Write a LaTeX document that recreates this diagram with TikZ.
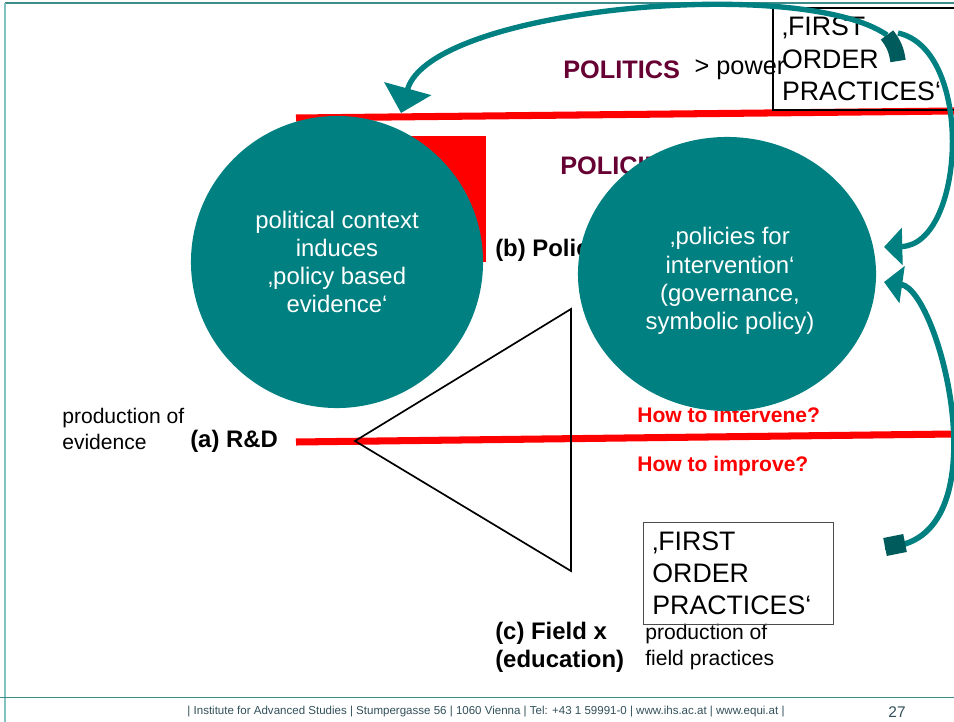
\documentclass[tikz,border=0pt]{standalone}
\usepackage{fontspec}
\setmainfont{Liberation Sans}
\usetikzlibrary{arrows.meta, positioning, shapes.geometric}

\definecolor{ihsteal}{RGB}{0,128,128}
\definecolor{ribbon}{RGB}{0,92,92}
\definecolor{polred}{RGB}{102,0,51}
\definecolor{frameline}{RGB}{60,140,140}
\definecolor{frameleft}{RGB}{130,195,195}
\definecolor{footgray}{RGB}{50,80,90}

\begin{document}
\begin{tikzpicture}[x=0.025cm,y=-0.025cm,
	bubble/.style={fill=ihsteal,text=white,align=center,inner sep=0pt,font=\fontsize{17}{20}\selectfont},
	fopbox/.style={draw,rectangle,align=left,anchor=north west,inner xsep=6.4pt,inner ysep=6.5pt,
		text width=122pt,font=\fontsize{19}{23}\selectfont},
	lbl/.style={anchor=west,inner sep=0pt,align=left,font=\fontsize{15}{18.5}\selectfont},
	levellbl/.style={anchor=west,inner sep=0pt,align=left,font=\bfseries\fontsize{17}{20}\selectfont},
	hdr/.style={anchor=west,inner sep=0pt,text=polred,font=\bfseries\fontsize{18}{21}\selectfont},
	ask/.style={anchor=west,inner sep=0pt,text=red,font=\bfseries\fontsize{15}{18}\selectfont},
	levelline/.style={red,line width=5pt},
	flow/.style={ihsteal,line width=3.8pt,-{Triangle[length=13pt,width=26pt]}},
	twist/.style={ribbon,line width=11pt}
]
	\useasboundingbox (0,0) rectangle (954,722);
	\fill[white] (0,0) rectangle (954,722);

	% slide frame and footer
	\draw[frameline,line width=0.8pt] (5,3) -- (954,3);
	\draw[frameleft,line width=0.8pt] (5,3) -- (5,722);
	\draw[frameline,line width=0.6pt] (0,697) -- (954,697);
	\node[text=footgray,font=\fontsize{8.2}{10}\selectfont] (footer) at (486,712)
		{|\ Institute for Advanced Studies |\ Stumpergasse 56 |\ 1060 Vienna |\ Tel: +43 1 59991-0 |\ www.ihs.ac.at |\ www.equi.at |};
	\node[text=footgray,font=\fontsize{11}{13}\selectfont] (pageno) at (897,712) {27};

	% levels
	\fill[red] (372,136) rectangle (486,262);
	\draw[levelline] (296,118) -- (954,111);
	\draw[levelline] (296,442) -- (954,434);
	\draw[line width=1.2pt,line join=miter] (355,441) -- (571,309) -- (571,571) -- cycle;

	\node[hdr] (politics) at (563,70) {POLITICS};
	\node[lbl,font=\fontsize{18}{21}\selectfont,right=0.35cm of politics] (power) {> power};
	\node[hdr] (policies) at (560,166) {POLICIES};
	\node[levellbl] (levelb) at (495,250) {(b) Policy};
	\node[levellbl] (levela) at (190,441) {(a) R\&D};
	\node[lbl] (evidence) at (62,429) {production of\\evidence};
	\node[ask] (ask1) at (637,415) {How to intervene?};
	\node[ask] (ask2) at (637,466) {How to improve?};
	\node[levellbl] (levelc) at (495,647) {(c) Field x\\(education)};
	\node[lbl] (fieldprod) at (645,647) {production of\\field practices};

	\node[bubble,circle,minimum size=7.3cm] (context) at (337,262)
		{political context\\induces\\‚policy based\\evidence‘};
	\node[bubble,ellipse,minimum width=7.45cm,minimum height=6.85cm] (intervene) at (727,274) {};
	\node[bubble,fill=none] (interventext) at (730,281)
		{‚policies for\\intervention‘\\(governance,\\symbolic policy)};

	\node[fopbox,line width=1.6pt] (fop1) at (772,7) {‚FIRST\\ORDER\\PRACTICES‘};
	\node[fopbox,draw=black!70,line width=0.6pt] (fop2) at (643,522) {‚FIRST\\ORDER\\PRACTICES‘};

	% feedback arrows
	\coordinate (aTail) at (887,35);
	\coordinate (aTwist) at (898,61);
	\coordinate (aHead) at (401,113);
	\coordinate (bTail) at (898,33);
	\coordinate (bHead) at (884,247);
	\coordinate (cTail) at (885,547);
	\coordinate (cTwist) at (905,543);
	\coordinate (cHead) at (884,282);
	\draw[flow,-{Triangle[length=18pt,width=34pt]}] (aTail) .. controls (800,-25) and (430,8) .. (aHead);
	\draw[flow] (bTail) .. controls (975,50) and (965,245) .. (bHead);
	\draw[flow,line width=4pt] (cTail) .. controls (1005,545) and (940,290) .. (cHead);
	\draw[twist] (aTail) to[bend left=15] (aTwist);
	\draw[twist,line width=13pt] (cTail) -- (cTwist);
\end{tikzpicture}
\end{document}
